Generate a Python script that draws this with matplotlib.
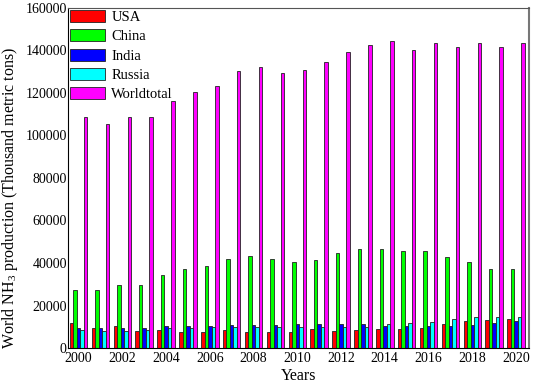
import numpy as np
import matplotlib
matplotlib.use('Agg')
import matplotlib.pyplot as plt

plt.rcParams['font.family'] = ['Liberation Serif', 'DejaVu Serif']
plt.rcParams['mathtext.fontset'] = 'custom'
plt.rcParams['mathtext.rm'] = 'Liberation Serif'

years = np.arange(2000, 2021)
usa = [11900, 9270, 10350, 8150, 8330, 7600, 7680, 8470, 7370, 7370, 7680,
       8940, 8150, 8630, 8790, 8940, 9560, 11140, 12560, 13030, 13500]
china = [27500, 27500, 29560, 29560, 34250, 37400, 38500, 41900, 43500, 41750, 40350,
         41300, 44600, 46600, 46600, 45500, 45500, 43000, 40350, 37400, 37400]
india = [9550, 9550, 9270, 9400, 10200, 10350, 10350, 10680, 10680, 10680, 11140,
         11300, 11450, 11450, 10500, 10350, 10350, 10350, 10980, 11900, 12560]
russia = [8330, 8150, 8000, 8600, 9270, 9480, 9740, 10040, 10040, 10040, 10040,
          10040, 10040, 10040, 11140, 11600, 12080, 13500, 14440, 14440, 14440]
world = [108500, 105400, 108500, 108500, 116400, 120600, 123500, 130200, 132300, 129500, 130700,
         134500, 139500, 142600, 144500, 140400, 143400, 141500, 143400, 141500, 143400]

series = [('USA', usa, '#ff0000'), ('China', china, '#00ff00'), ('India', india, '#0000ff'),
          ('Russia', russia, '#00ffff'), ('Worldtotal', world, '#ff00ff')]

fig = plt.figure(figsize=(5.33, 3.86), dpi=100)
ax = fig.add_axes([0.128, 0.0984, 0.864, 0.881])

w = 0.16
for i, (name, vals, col) in enumerate(series):
    ax.bar(years + (i - 2) * w, vals, width=w, color=col, edgecolor='#222222',
           linewidth=0.6, label=name)

ax.set_xlim(1999.53, 2020.58)
ax.set_ylim(0, 160000)
ax.set_yticks(np.arange(0, 160001, 20000))
ax.set_xticks(np.arange(2000, 2021, 2))
ax.tick_params(axis='both', length=0, labelsize=10)
ax.tick_params(axis='y', pad=1)
ax.tick_params(axis='x', pad=3)
ax.spines['left'].set_color('black')
ax.spines['bottom'].set_color('black')
ax.spines['top'].set_color('#555555')
ax.spines['right'].set_color('#777777')
ax.spines['right'].set_linewidth(1.5)

ax.set_xlabel('Years', fontsize=11.5, labelpad=2)
ax.set_ylabel('World NH$_3$ production (Thousand metric tons)', fontsize=11.5)
ax.yaxis.set_label_coords(-0.105, 0.44)

ax.legend(loc='upper left', frameon=False, fontsize=10.5, handlelength=2.4, handleheight=0.9,
          labelspacing=0.35, handletextpad=0.4, borderaxespad=0.05, borderpad=0.1)

fig.savefig('out.png', dpi=100)
